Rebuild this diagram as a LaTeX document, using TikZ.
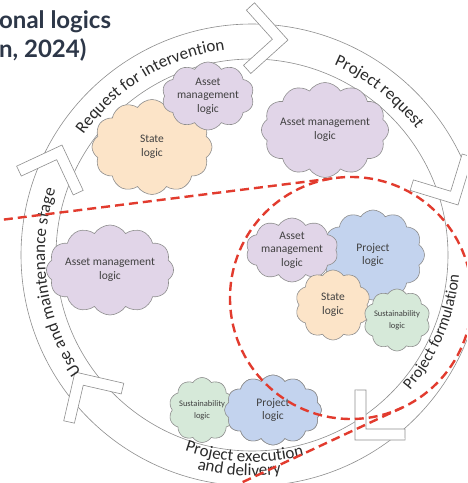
\documentclass[tikz,border=0pt]{standalone}
\usepackage{fontspec}
\setmainfont{Carlito}
\newfontfamily\headfont{Lato}
\usetikzlibrary{positioning,calc,shapes.symbols,decorations.text}
\definecolor{ringgray}{HTML}{8E8E8E}
\definecolor{stagetext}{HTML}{2B2B2B}
\definecolor{logictext}{HTML}{404040}
\definecolor{assetfill}{HTML}{E1D5E8}
\definecolor{statefill}{HTML}{FCE4C8}
\definecolor{projectfill}{HTML}{C3D3EE}
\definecolor{sustfill}{HTML}{D6E9D9}
\definecolor{zoomred}{HTML}{E23B2E}
\definecolor{headgray}{HTML}{2D3748}
\tikzset{
x=1pt,y=1pt,
ring/.style={draw=ringgray,line width=0.6pt},
chevron/.pic={
  \path[ring,fill=white] (0,0) -- (-35.4,35.4) -- (-43.1,27.6) -- (-15.6,0)
     -- (-43.1,-27.6) -- (-35.4,-35.4) -- cycle;
},
stage/.style={decorate,decoration={text along path,text align=center,
  text={|\fontsize{17}{17}\selectfont\color{stagetext}|#1}}},
smallstage/.style={decorate,decoration={text along path,text align=center,
  text={|\fontsize{16}{16}\selectfont\color{stagetext}|#1}}},
logic/.style={cloud,cloud puffs=12,cloud puff arc=115,cloud ignores aspect,
  draw=ringgray,line width=0.6pt,inner sep=0pt,align=center,text=logictext,
  font=\fontsize{11.5}{13.5}\selectfont},
assetlogic/.style={logic,fill=assetfill},
statelogic/.style={logic,fill=statefill},
projectlogic/.style={logic,fill=projectfill},
sustlogic/.style={logic,fill=sustfill,font=\fontsize{8.5}{12}\selectfont},
zoomline/.style={draw=zoomred,line width=2.4pt,dash pattern=on 9pt off 5pt},
headline/.style={anchor=base west,inner sep=0pt,text=headgray,
  font=\headfont\bfseries\fontsize{24}{27}\selectfont}
}
\begin{document}
\begin{tikzpicture}
\useasboundingbox (-252,-228) rectangle (215,255);
\fill[white] (-252,-228) rectangle (215,255);
\clip (-252,-228) rectangle (215,255);

% the cycle
\draw[ring] (0,0) circle[radius=231] (0,0) circle[radius=196];
\pic[rotate=-3]  at (36,215)    {chevron};
\pic[rotate=-62] at (206,50)    {chevron};
\pic[rotate=225] at (103,-185)  {chevron};
\pic[rotate=122] at (-177,-117) {chevron};
\pic[rotate=70]  at (-190,110)  {chevron};

\path[stage={Request for intervention}]       (151:207)  arc[start angle=151,end angle=91,radius=207];
\path[stage={Project request}]                (72:207)   arc[start angle=72,end angle=32,radius=207];
\path[smallstage={Project formulation}]       (-46:208)  arc[start angle=-46,end angle=0,radius=208];
\path[stage={Project execution}]              (-122:207) arc[start angle=-122,end angle=-62.4,radius=207];
\path[stage={and delivery}]                   (-116:221) arc[start angle=-116,end angle=-70.8,radius=221];
\path[stage={Use and maintenance stage}]      (218:207)  arc[start angle=218,end angle=158,radius=207];

% logics per stage
\node[statelogic,minimum width=120pt,minimum height=95pt] (stateTop) at (-100,108) {State\\logic};
\node[assetlogic,minimum width=80pt,minimum height=68pt,cloud puffs=10] (assetTop) at (-44,159) {Asset\\management\\logic};
\node[assetlogic,minimum width=120pt,minimum height=95pt] (assetRight) at (73,125) {Asset management\\logic};
\node[assetlogic,minimum width=120pt,minimum height=90pt] (assetLeft) at (-142,-15) {Asset management\\logic};

\node[projectlogic,minimum width=103pt,minimum height=90pt] (projForm) at (121,0) {Project\\logic};
\node[assetlogic,minimum width=78pt,minimum height=64pt,cloud puffs=10] (assetForm) [left=-15pt of projForm,yshift=5pt] {Asset\\management\\logic};
\node[statelogic,minimum width=75pt,minimum height=70pt,cloud puffs=10] (stateForm) at (81,-50) {State\\logic};
\node[sustlogic,minimum width=65pt,minimum height=62pt,cloud puffs=10] (sustForm) at (145,-65) {Sustainability\\logic};

\node[projectlogic,minimum width=97pt,minimum height=70pt] (projExec) at (21,-155) {Project\\logic};
\node[sustlogic,minimum width=60pt,minimum height=65pt,cloud puffs=10] (sustExec) [left=-8pt of projExec] {Sustainability\\logic};
\node[projectlogic,minimum width=97pt,minimum height=70pt] at (projExec) {Project\\logic};

% zoom-in callout
\node[circle,zoomline,minimum size=242pt,inner sep=0pt,outer sep=0pt] (zoom) at (99,-43) {};
\coordinate (zoomA) at (-262,33.7);
\coordinate (zoomB) at (-22,-233);
\draw[zoomline] (zoomA) -- (tangent cs:node=zoom,point={(zoomA)},solution=2);
\draw[zoomline] (zoomB) -- (tangent cs:node=zoom,point={(zoomB)},solution=1);

% cut-off heading
\node[headline] (headA) at (-253,227) {onal logics};
\node[headline] (headB) at (-253,198) {n, 2024)};
\end{tikzpicture}
\end{document}
